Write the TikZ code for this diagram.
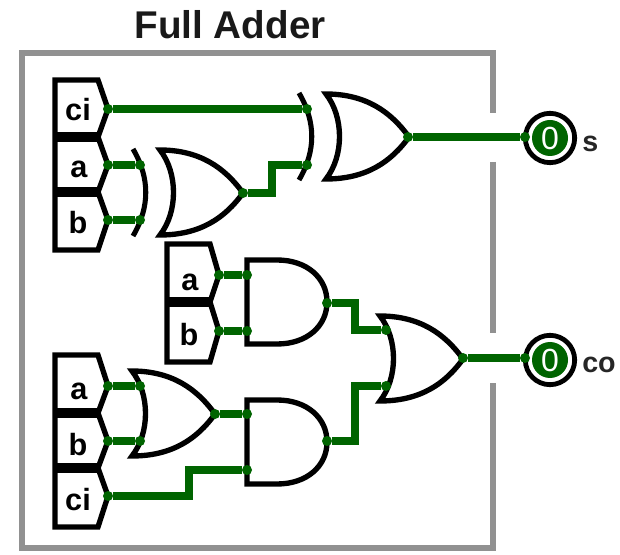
\documentclass[tikz,border=0pt]{standalone}
\usepackage{fontspec}
\setmainfont{Liberation Sans}
\definecolor{wire}{RGB}{0,100,0}
\definecolor{frame}{RGB}{145,145,145}
\tikzset{
  x=0.75pt,y=-0.75pt,
  gateline/.style={draw=black,line width=4pt,line join=miter,fill=white},
  arcline/.style={draw=black,line width=3.8pt},
  pinshape/.style={draw=black,line width=4pt,line join=miter,fill=white},
  sepline/.style={draw=black,line width=7pt},
  framewall/.style={draw=frame,line width=4.5pt},
  wireline/.style={draw=wire,line width=6pt},
  port/.style={circle,fill=wire,inner sep=0pt,minimum size=7.5pt},
  pinlabel/.style={inner sep=0pt,font=\fontsize{23}{23}\selectfont\bfseries},
  outring/.style={circle,draw=black,line width=3.6pt,fill=white,inner sep=0pt,minimum size=37pt},
  outlamp/.style={circle,fill=wire,text=white,inner sep=0pt,minimum size=27pt,font=\fontsize{24}{24}\selectfont},
  outlabel/.style={inner sep=0pt,anchor=west,font=\fontsize{21.5}{21.5}\selectfont\bfseries,text=black!85},
  orbody/.pic={\path[gateline] (0,0) .. controls (40,0) and (65,18) .. (83,43) .. controls (65,68) and (40,85) .. (0,85) .. controls (18,62) and (18,23) .. cycle;},
  xorarc/.pic={\path[arcline] (-27,-1) .. controls (-10,28) and (-10,57) .. (-27,86);},
  andbody/.pic={\path[gateline] (0,0) -- (30,0) .. controls (60,0) and (80,18) .. (80,42) .. controls (80,66) and (60,84) .. (30,84) -- (0,84) -- cycle;}
}
\begin{document}
\begin{tikzpicture}
\useasboundingbox (0,0) rectangle (620,555);
% enclosure with gaps at the outputs
\draw[framewall,line cap=butt] (493,113) -- (493,53) -- (22,53) -- (22,548) -- (493,548) -- (493,383);
\draw[framewall] (493,162) -- (493,333);
\node[inner sep=0pt,font=\fontsize{29}{29}\selectfont\bfseries,text=black!90] (title) at (230,25) {Full Adder};

% input pin groups
\path[pinshape] (55,80) -- (98,80) -- (108,109) -- (98,137) -- (108,165) -- (98,192) -- (108,220) -- (98,250) -- (55,250) -- cycle;
\draw[sepline] (55,137) -- (98,137);
\draw[sepline] (55,192) -- (98,192);
\path[pinshape] (167,244) -- (210,244) -- (219,275) -- (210,302) -- (219,331) -- (210,362) -- (167,362) -- cycle;
\draw[sepline] (167,302) -- (210,302);
\path[pinshape] (55,355) -- (98,355) -- (108,386) -- (98,413) -- (108,441) -- (98,468) -- (108,496) -- (98,527) -- (55,527) -- cycle;
\draw[sepline] (55,413) -- (98,413);
\draw[sepline] (55,468) -- (98,468);
\node[pinlabel] (l1) at (78,110) {ci};
\node[pinlabel] (l2) at (79,169) {a};
\node[pinlabel] (l3) at (78,223) {b};
\node[pinlabel] (l4) at (190,282) {a};
\node[pinlabel] (l5) at (189,335) {b};
\node[pinlabel] (l6) at (79,391) {a};
\node[pinlabel] (l7) at (78,445) {b};
\node[pinlabel] (l8) at (78,500) {ci};

% gates
\pic at (160,150) {xorarc};
\pic at (160,150) {orbody};
\pic at (326,94) {xorarc};
\pic at (326,94) {orbody};
\pic at (132,371) {orbody};
\pic at (380,316) {orbody};
\pic at (247,260) {andbody};
\pic at (247,400) {andbody};

% outputs
\node[outring] (sring) at (550,138) {};
\node[outlamp] (slamp) at (550,138) {0};
\node[outring] (coring) at (550,360) {};
\node[outlamp] (colamp) at (550,360) {0};
\node[outlabel] (slabel) at (582,144) {s};
\node[outlabel] (colabel) at (582,365) {co};

% ports
\foreach \n/\px/\py in {ci1/108/109,a1/108/165,b1/108/220,xa/140/165,xb/140/220,xo/243/193,xci/307/109,xi/307/165,xso/408/137,
 sin/525/137,a2/219/275,b2/219/331,aa/247/275,ab/247/331,ao/327/303,
 a3/108/386,b3/108/441,c3/108/496,oa/140/386,ob/140/441,oo/215/414,ba/247/414,bb/247/470,bo/327/441,
 fa/386/330,fb/386/386,fo/463/358,coin/525/358}
  \node[port] (\n) at (\px,\py) {};

% wires
\draw[wireline] (ci1) -- (xci);
\draw[wireline] (a1) -- (xa);
\draw[wireline] (b1) -- (xb);
\draw[wireline,line join=miter] (xo) -| (272,193) |- (xi);
\draw[wireline] (xso) -- (sin);
\draw[wireline] (a2) -- (aa);
\draw[wireline] (b2) -- (ab);
\draw[wireline] (a3) -- (oa);
\draw[wireline] (b3) -- (ob);
\draw[wireline] (oo) -- (ba);
\draw[wireline,line join=miter] (c3) -| (189,470) |- (bb);
\draw[wireline,line join=miter] (ao) -| (355,330) |- (fa);
\draw[wireline,line join=miter] (bo) -| (355,386) |- (fb);
\draw[wireline] (fo) -- (coin);
\end{tikzpicture}
\end{document}
